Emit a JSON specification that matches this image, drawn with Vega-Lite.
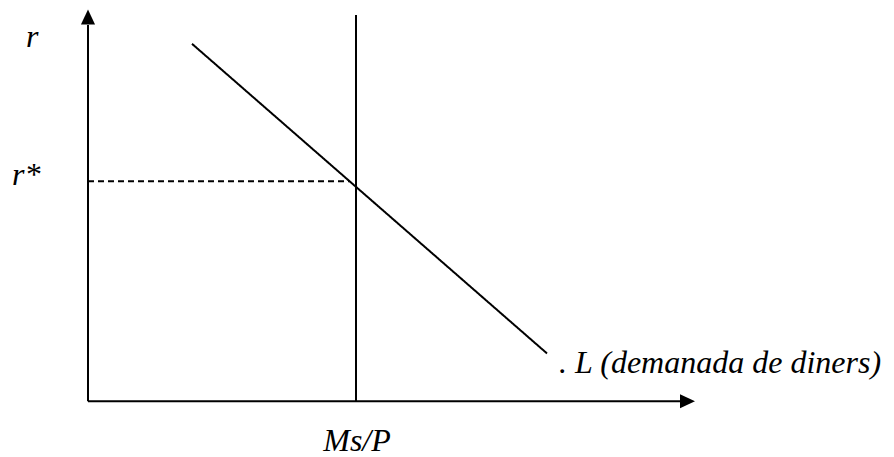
{
  "$schema": "https://vega.github.io/schema/vega-lite/v6.json",
  "width": 894,
  "height": 457,
  "padding": 0,
  "autosize": {"type": "fit", "contains": "padding"},
  "background": "white",
  "config": {"view": {"stroke": null}},
  "datasets": {
    "segments": [
      {"name": "eixY", "x": 88, "y": 25, "x2": 88, "y2": 403, "dashed": "no"},
      {"name": "eixX", "x": 88, "y": 403, "x2": 682, "y2": 403, "dashed": "no"},
      {"name": "oferta", "x": 356, "y": 15, "x2": 356, "y2": 403, "dashed": "no"},
      {"name": "demanda", "x": 192, "y": 44, "x2": 547, "y2": 355, "dashed": "no"},
      {"name": "rstar", "x": 88, "y": 182, "x2": 350, "y2": 182, "dashed": "yes"}
    ],
    "arrows": [
      {"dir": "up", "x": 88, "y": 17},
      {"dir": "right", "x": 687.5, "y": 403}
    ],
    "labels": [
      {"text": "r", "x": 26, "y": 47, "pos": "left"},
      {"text": "r*", "x": 12, "y": 186, "pos": "left"},
      {"text": "Ms/P", "x": 357, "y": 453, "pos": "center"},
      {"text": ".  L (demanada de diners)", "x": 559, "y": 375, "pos": "left"}
    ]
  },
  "encoding": {
    "x": {"field": "x", "type": "quantitative", "scale": {"domain": [0, 894], "nice": false, "zero": false}, "axis": null},
    "y": {"field": "y", "type": "quantitative", "scale": {"domain": [0, 457], "nice": false, "zero": false, "reverse": true}, "axis": null}
  },
  "layer": [
    {
      "data": {"name": "segments"},
      "mark": {"type": "rule", "color": "black", "strokeWidth": 2},
      "encoding": {
        "x2": {"field": "x2"},
        "y2": {"field": "y2"},
        "strokeDash": {"field": "dashed", "type": "nominal", "scale": {"domain": ["no", "yes"], "range": [[1, 0], [6, 4]]}, "legend": null}
      }
    },
    {
      "data": {"name": "arrows"},
      "mark": {"type": "point", "filled": true, "color": "black", "opacity": 1, "size": 225, "strokeWidth": 0},
      "encoding": {
        "shape": {"field": "dir", "type": "nominal", "scale": {"domain": ["up", "right"], "range": ["M0,-1L0.94,1L-0.94,1Z", "M1,0L-1,0.94L-1,-0.94Z"]}, "legend": null}
      }
    },
    {
      "data": {"name": "labels"},
      "transform": [{"filter": "datum.pos === 'left'"}],
      "mark": {"type": "text", "font": "Liberation Serif", "fontStyle": "italic", "fontSize": 32, "color": "black", "baseline": "alphabetic", "align": "left"},
      "encoding": {
        "text": {"field": "text"}
      }
    },
    {
      "data": {"name": "labels"},
      "transform": [{"filter": "datum.pos === 'center'"}],
      "mark": {"type": "text", "font": "Liberation Serif", "fontStyle": "italic", "fontSize": 32, "color": "black", "baseline": "alphabetic", "align": "center"},
      "encoding": {
        "text": {"field": "text"}
      }
    }
  ]
}
